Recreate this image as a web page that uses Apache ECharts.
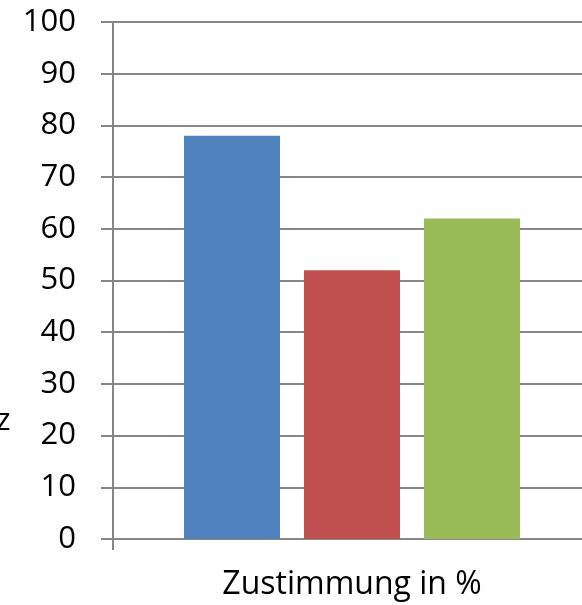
<!DOCTYPE html>
<html><head><meta charset="utf-8">
<script src="https://cdn.jsdelivr.net/npm/echarts@6/dist/echarts.min.js"></script>
<style>html,body{margin:0;padding:0;background:#fff}#c{width:582px;height:605px}</style>
</head><body><div id="c"></div>
<script>
const categories = ['Zustimmung in %'];
const seriesNames = ['A', 'B', 'C'];
const valuesA = [78];
const valuesB = [52];
const valuesC = [62];
const colors = ['#4F81BD', '#C0504D', '#9BBB59'];
const F = 'Open Sans';
const chart = echarts.init(document.getElementById('c'));
chart.setOption({
  animation: false,
  grid: { left: 113, width: 478, top: 22, height: 517, outerBoundsMode: 'none', containLabel: false },
  graphic: [{ type: 'text', left: -4, top: 406, style: { text: 'z', font: '31px "Open Sans"', fill: '#000' } }],
  xAxis: {
    type: 'category', data: categories,
    axisLine: { lineStyle: { color: '#868686', width: 2 } },
    axisTick: { show: true, length: 11, lineStyle: { color: '#868686', width: 2 } },
    axisLabel: { color: '#000', fontFamily: F, fontSize: 32, margin: 30 }
  },
  yAxis: {
    type: 'value', min: 0, max: 100, interval: 10,
    axisLine: { show: true, lineStyle: { color: '#868686', width: 2 } },
    axisTick: { show: true, length: 12, lineStyle: { color: '#868686', width: 2 } },
    splitLine: { lineStyle: { color: '#868686', width: 2 } },
    axisLabel: { color: '#000', fontFamily: F, fontSize: 31, margin: 37 }
  },
  series: [
    { name: seriesNames[0], type: 'bar', data: valuesA, barWidth: 96, barGap: '25%', itemStyle: { color: colors[0] } },
    { name: seriesNames[1], type: 'bar', data: valuesB, barWidth: 96, barGap: '25%', itemStyle: { color: colors[1] } },
    { name: seriesNames[2], type: 'bar', data: valuesC, barWidth: 96, barGap: '25%', itemStyle: { color: colors[2] } }
  ]
});
</script></body></html>
